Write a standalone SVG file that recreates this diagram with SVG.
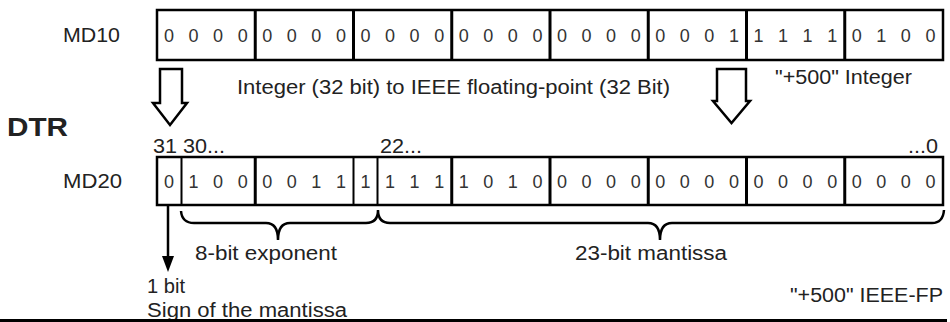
<svg xmlns="http://www.w3.org/2000/svg" width="950" height="322" viewBox="0 0 950 322">
<style>
text{font-family:"Liberation Sans",Arial,sans-serif;fill:#222}
.lbl{font-size:20px}
.dig{font-size:18px;text-anchor:middle;fill:#333}
.bx{fill:#fff;stroke:#000;stroke-width:2.5}
.thk{stroke:#000;stroke-width:3}
.thn{stroke:#000;stroke-width:2}
.ln{fill:none;stroke:#000;stroke-width:2.5}
</style>
<rect width="950" height="322" fill="#fff"/>
<g id="md10">
<text class="lbl" x="63" y="42" textLength="57" lengthAdjust="spacingAndGlyphs">MD10</text>
<rect class="bx" x="157" y="10" width="786" height="50"/>
<path class="thk" d="M255.25 10V60M353.5 10V60M451.75 10V60M550 10V60M648.25 10V60M746.5 10V60M844.75 10V60"/>
<text class="dig" y="42" x="169 193.56 218.13 242.69 267.25 291.81 316.38 340.94 365.5 390.06 414.63 439.19 463.75 488.31 512.88 537.44 562 586.56 611.13 635.69 660.25 684.81 709.38 733.94 758.5 783.06 807.63 832.19 856.75 881.31 905.88 930.44">00000000000000000000000111110100</text>
<text class="lbl" x="775" y="84" textLength="137" lengthAdjust="spacingAndGlyphs">"+500" Integer</text>
</g>
<g id="dtr">
<text x="7" y="136" font-size="26" font-weight="bold" textLength="61" lengthAdjust="spacingAndGlyphs">DTR</text>
<text class="lbl" x="237" y="94" textLength="433" lengthAdjust="spacingAndGlyphs">Integer (32 bit) to IEEE floating-point (32 Bit)</text>
</g>
<g id="md20">
<text class="lbl" x="63" y="188" textLength="59" lengthAdjust="spacingAndGlyphs">MD20</text>
<text class="lbl" x="153" y="153" textLength="72" lengthAdjust="spacingAndGlyphs">31 30...</text>
<text class="lbl" x="380" y="153" textLength="42" lengthAdjust="spacingAndGlyphs">22...</text>
<text class="lbl" x="908" y="153" textLength="30" lengthAdjust="spacingAndGlyphs">...0</text>
<rect class="bx" x="157" y="157" width="786" height="48"/>
<path class="thk" d="M255.25 157V205M451.75 157V205M550 157V205M648.25 157V205M746.5 157V205M844.75 157V205"/>
<path class="thn" d="M181.5 157V205M353.5 157V205M377.5 157V205"/>
<text class="dig" y="188" x="169 193.56 218.13 242.69 267.25 291.81 316.38 340.94 365.5 390.06 414.63 439.19 463.75 488.31 512.88 537.44 562 586.56 611.13 635.69 660.25 684.81 709.38 733.94 758.5 783.06 807.63 832.19 856.75 881.31 905.88 930.44">01000011111110100000000000000000</text>
</g>
<g id="exponent">
<text class="lbl" x="195" y="260" textLength="142" lengthAdjust="spacingAndGlyphs">8-bit exponent</text>
</g>
<g id="mantissa">
<text class="lbl" x="575" y="260" textLength="152" lengthAdjust="spacingAndGlyphs">23-bit mantissa</text>
</g>
<g id="sign">
<text class="lbl" x="147" y="293" textLength="38" lengthAdjust="spacingAndGlyphs">1 bit</text>
<text class="lbl" x="147" y="317" textLength="200" lengthAdjust="spacingAndGlyphs">Sign of the mantissa</text>
</g>
<g id="ieee">
<text class="lbl" x="790" y="302" textLength="153" lengthAdjust="spacingAndGlyphs">"+500" IEEE-FP</text>
</g>
<g id="connectors">
<path class="ln" fill="#fff" d="M160 69H182V103H187L170 125L153 103H160Z"/>
<path class="ln" fill="#fff" d="M717 69H746V101H750L731.5 123L713 101H717Z"/>
<path class="ln" d="M168 205V258"/>
<path d="M162 256H174L168 272Z" fill="#000"/>
<path class="ln" d="M181 211Q182 223 194 223H266Q278 223 278 240Q278 223 290 223H366Q378 223 378 210Q378 223 390 223H648Q660 223 660 240Q660 223 672 223H932Q943 223 944 210"/>
<path d="M0 320.5H947" stroke="#000" stroke-width="3"/>
</g>
</svg>
